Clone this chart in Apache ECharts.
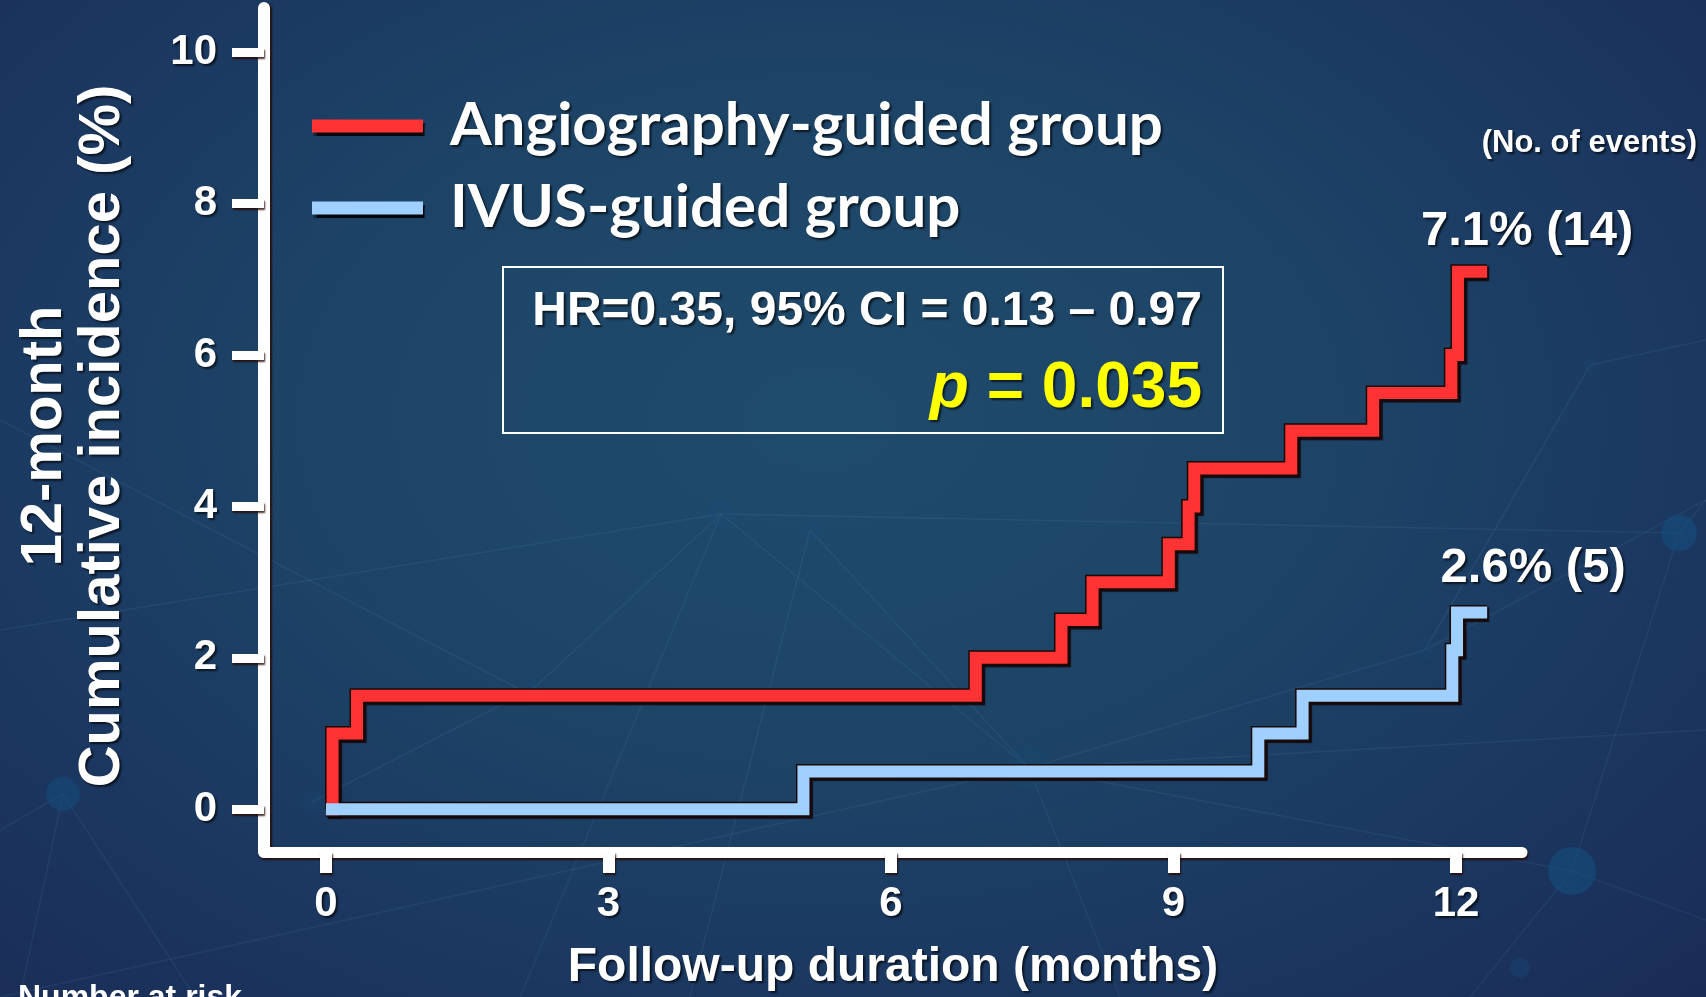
<!DOCTYPE html>
<html>
<head>
<meta charset="utf-8">
<script src="https://cdn.jsdelivr.net/npm/echarts@6/dist/echarts.min.js"></script>
<style>
  html, body { margin: 0; padding: 0; width: 1706px; height: 997px; overflow: hidden; }
  #chart {
    width: 1706px; height: 997px;
    background: radial-gradient(ellipse 75% 85% at 48% 42%, #1f4b6c 0%, #1d4467 40%, #1b3760 70%, #1a2b55 100%);
  }
</style>
</head>
<body>
<div id="chart"></div>
<script>
// Kaplan-Meier style cumulative incidence: month of each step and the level reached (%)
const angioMonths    = [0, 0.07, 0.33, 6.90, 7.81, 8.14, 8.95, 9.16, 9.22, 10.25, 11.12, 11.95, 12.02, 12.33];
const angioIncidence = [0, 1.0,  1.5,  2.0,  2.5,  3.0,  3.5,  4.0,  4.5,  5.0,   5.5,   6.0,   7.1,   7.1];
const ivusMonths     = [0, 5.07, 9.90, 10.37, 11.96, 12.01, 12.33];
const ivusIncidence  = [0, 0.5,  1.0,  1.5,   2.1,   2.6,   2.6];

const groupNames  = ['Angiography-guided group', 'IVUS-guided group'];
const eventCounts = [14, 5];
const groupColors = ['#ff3333', '#9fd0ff'];

const xTicks = [0, 3, 6, 9, 12];
const yTicks = [0, 2, 4, 6, 8, 10];

const hrText = 'HR=0.35, 95% CI = 0.13 \u2013 0.97';
const pValue = '0.035';

const pairs = (xs, ys) => xs.map((x, i) => [x, ys[i]]);
const angioData = pairs(angioMonths, angioIncidence);
const ivusData  = pairs(ivusMonths, ivusIncidence);

const SANS = '"Liberation Sans", Arial, sans-serif';
const white = '#ffffff';
const textShadow = {
  textShadowColor: 'rgba(0,0,0,0.65)',
  textShadowBlur: 2,
  textShadowOffsetX: 2,
  textShadowOffsetY: 2
};

// thick stepped curve drawn twice: a dark outline underneath, bright line on top
function stepSeries(name, data, color) {
  return [
    {
      name: name + ' outline',
      type: 'line',
      step: 'end',
      data: data,
      symbol: 'none',
      silent: true,
      z: 2,
      lineStyle: {
        width: 15, color: '#1a0a06', join: 'miter',
        shadowColor: 'rgba(20,0,0,0.85)', shadowBlur: 1, shadowOffsetX: 2, shadowOffsetY: 2
      }
    },
    {
      name: name,
      type: 'line',
      step: 'end',
      data: data,
      symbol: 'none',
      z: 3,
      itemStyle: { color: color },
      lineStyle: { width: 12, color: color, join: 'miter' }
    }
  ];
}

// end-of-curve annotations: final level and number of events
const endPoints = [angioData[angioData.length - 1], ivusData[ivusData.length - 1]];
const endLabelOffsets = [[40, -10], [46, -14]];

// faint network texture in the backdrop
const nodes = [
  [721, 514, 14, 0.18], [810, 530, 10, 0.18], [1029, 768, 22, 0.12], [1572, 871, 24, 0.55],
  [1679, 533, 18, 0.55], [63, 794, 17, 0.45], [312, 802, 12, 0.15], [1520, 968, 10, 0.3],
  [534, 688, 8, 0.12], [1425, 650, 11, 0.12], [1590, 365, 7, 0.15], [600, 160, 6, 0.08]
];
const links = [
  [[0, 630], [721, 514]], [[721, 514], [1679, 533]], [[810, 530], [1029, 768]],
  [[721, 514], [1029, 768]], [[721, 514], [520, 997]], [[810, 530], [690, 997]],
  [[1029, 768], [1572, 871]], [[1029, 768], [0, 997]], [[1029, 768], [1120, 997]],
  [[1572, 871], [1679, 533]], [[1572, 871], [1706, 920]], [[1679, 533], [1706, 500]],
  [[63, 794], [0, 830]], [[63, 794], [195, 997]], [[63, 794], [20, 997]],
  [[1029, 768], [1425, 650]], [[1425, 650], [1706, 500]], [[1572, 871], [1470, 997]],
  [[312, 802], [534, 688]], [[534, 688], [721, 514]], [[0, 420], [521, 690]],
  [[1590, 365], [1706, 340]], [[1590, 365], [1425, 650]], [[1029, 768], [1706, 730]]
];
const decor = [];
links.forEach(l => decor.push({
  type: 'line', z: -10, silent: true,
  shape: { x1: l[0][0], y1: l[0][1], x2: l[1][0], y2: l[1][1] },
  style: { stroke: 'rgba(120,175,215,0.09)', lineWidth: 1.5 }
}));
nodes.forEach(n => decor.push({
  type: 'circle', z: -9, silent: true,
  shape: { cx: n[0], cy: n[1], r: n[2] },
  style: { fill: 'rgba(20,80,130,' + n[3] + ')' }
}));

const chart = echarts.init(document.getElementById('chart'), null, { renderer: 'canvas' });

chart.setOption({
  backgroundColor: 'transparent',
  animation: false,
  grid: { left: 264, right: 184, top: 8, bottom: 141, containLabel: false },
  legend: {
    orient: 'vertical',
    left: 307,
    top: 90,
    itemWidth: 111,
    itemHeight: 13,
    itemGap: 20,
    data: groupNames.map(n => ({ name: n, icon: 'rect' })),
    itemStyle: { shadowColor: 'rgba(0,0,0,0.9)', shadowBlur: 1, shadowOffsetX: 2, shadowOffsetY: 3 },
    textStyle: Object.assign({
      color: white, fontFamily: 'Lato, "Open Sans", sans-serif', fontWeight: 'bold',
      fontSize: 60, lineHeight: 62, padding: [0, 0, 0, 22]
    }, textShadow)
  },
  xAxis: {
    type: 'value',
    min: -0.658,
    max: 12.70,
    name: 'Follow-up duration (months)',
    nameLocation: 'middle',
    nameGap: 92,
    nameTextStyle: Object.assign({ color: white, fontFamily: SANS, fontWeight: 'bold', fontSize: 48 }, textShadow),
    axisLine: {
      onZero: false,
      lineStyle: { color: white, width: 11, shadowColor: 'rgba(40,10,0,0.85)', shadowBlur: 2, shadowOffsetX: 1, shadowOffsetY: 2 }
    },
    axisTick: {
      customValues: xTicks, length: 21,
      lineStyle: { color: white, width: 12, shadowColor: 'rgba(40,10,0,0.85)', shadowBlur: 2, shadowOffsetX: 1, shadowOffsetY: 2 }
    },
    axisLabel: Object.assign({
      customValues: xTicks, margin: 31, color: white,
      fontFamily: SANS, fontWeight: 'bold', fontSize: 42
    }, textShadow),
    splitLine: { show: false }
  },
  yAxis: {
    type: 'value',
    min: -0.565,
    max: 10.585,
    name: '12-month\nCumulative incidence (%)',
    nameLocation: 'middle',
    nameRotate: 90,
    nameGap: 132,
    nameTextStyle: Object.assign({
      color: white, fontFamily: SANS, fontWeight: 'bold', fontSize: 58, lineHeight: 58, align: 'center',
      padding: [0, 12, 0, 0]
    }, textShadow),
    axisLine: {
      onZero: false,
      lineStyle: { color: white, width: 12, shadowColor: 'rgba(40,10,0,0.85)', shadowBlur: 2, shadowOffsetX: 2, shadowOffsetY: 1 }
    },
    axisTick: {
      customValues: yTicks, length: 32,
      lineStyle: { color: white, width: 9, shadowColor: 'rgba(40,10,0,0.85)', shadowBlur: 2, shadowOffsetX: 1, shadowOffsetY: 2 }
    },
    axisLabel: Object.assign({
      customValues: yTicks, margin: 47, color: white,
      fontFamily: SANS, fontWeight: 'bold', fontSize: 42
    }, textShadow),
    splitLine: { show: false }
  },
  series: [
    ...stepSeries(groupNames[0], angioData, groupColors[0]),
    ...stepSeries(groupNames[1], ivusData, groupColors[1]),
    {
      name: 'end labels',
      type: 'scatter',
      silent: true,
      z: 5,
      symbolSize: 1,
      itemStyle: { color: 'rgba(0,0,0,0)', opacity: 1 },
      data: endPoints.map((p, i) => ({
        value: p,
        label: Object.assign({
          show: true,
          position: 'top',
          offset: endLabelOffsets[i],
          color: white, fontFamily: SANS, fontWeight: 'bold', fontSize: 49,
          formatter: p[1].toFixed(1) + '% (' + eventCounts[i] + ')'
        }, textShadow)
      }))
    }
  ],
  graphic: [
    ...decor,
    {
      type: 'rect', z: 10, silent: true,
      shape: { x: 503, y: 267, width: 720, height: 166 },
      style: { fill: 'none', stroke: '#ffffff', lineWidth: 2 }
    },
    {
      type: 'text', z: 10, silent: true,
      x: 1202, y: 312,
      style: {
        text: hrText, fill: white, font: 'bold 48px ' + SANS,
        align: 'right', verticalAlign: 'middle',
        textShadowColor: 'rgba(0,0,0,0.65)', textShadowBlur: 2, textShadowOffsetX: 2, textShadowOffsetY: 2
      }
    },
    {
      type: 'text', z: 10, silent: true,
      x: 1202, y: 389,
      style: {
        text: '{i|p} = ' + pValue,
        fill: '#ffff00', font: 'bold 64px ' + SANS,
        align: 'right', verticalAlign: 'middle',
        textShadowColor: 'rgba(0,0,0,0.65)', textShadowBlur: 2, textShadowOffsetX: 2, textShadowOffsetY: 2,
        rich: { i: { fontStyle: 'italic', fontWeight: 'bold', fontSize: 64, fontFamily: SANS, fill: '#ffff00' } }
      }
    },
    {
      type: 'text', z: 10, silent: true,
      x: 1697, y: 143,
      style: {
        text: '(No. of events)', fill: white, font: 'bold 31px ' + SANS,
        align: 'right', verticalAlign: 'middle',
        textShadowColor: 'rgba(0,0,0,0.65)', textShadowBlur: 2, textShadowOffsetX: 2, textShadowOffsetY: 2
      }
    },
    {
      type: 'text', z: 10, silent: true,
      x: 18, y: 998,
      style: {
        text: 'Number at risk', fill: white, font: 'bold 32px ' + SANS,
        align: 'left', verticalAlign: 'middle'
      }
    }
  ]
});
</script>
</body>
</html>
